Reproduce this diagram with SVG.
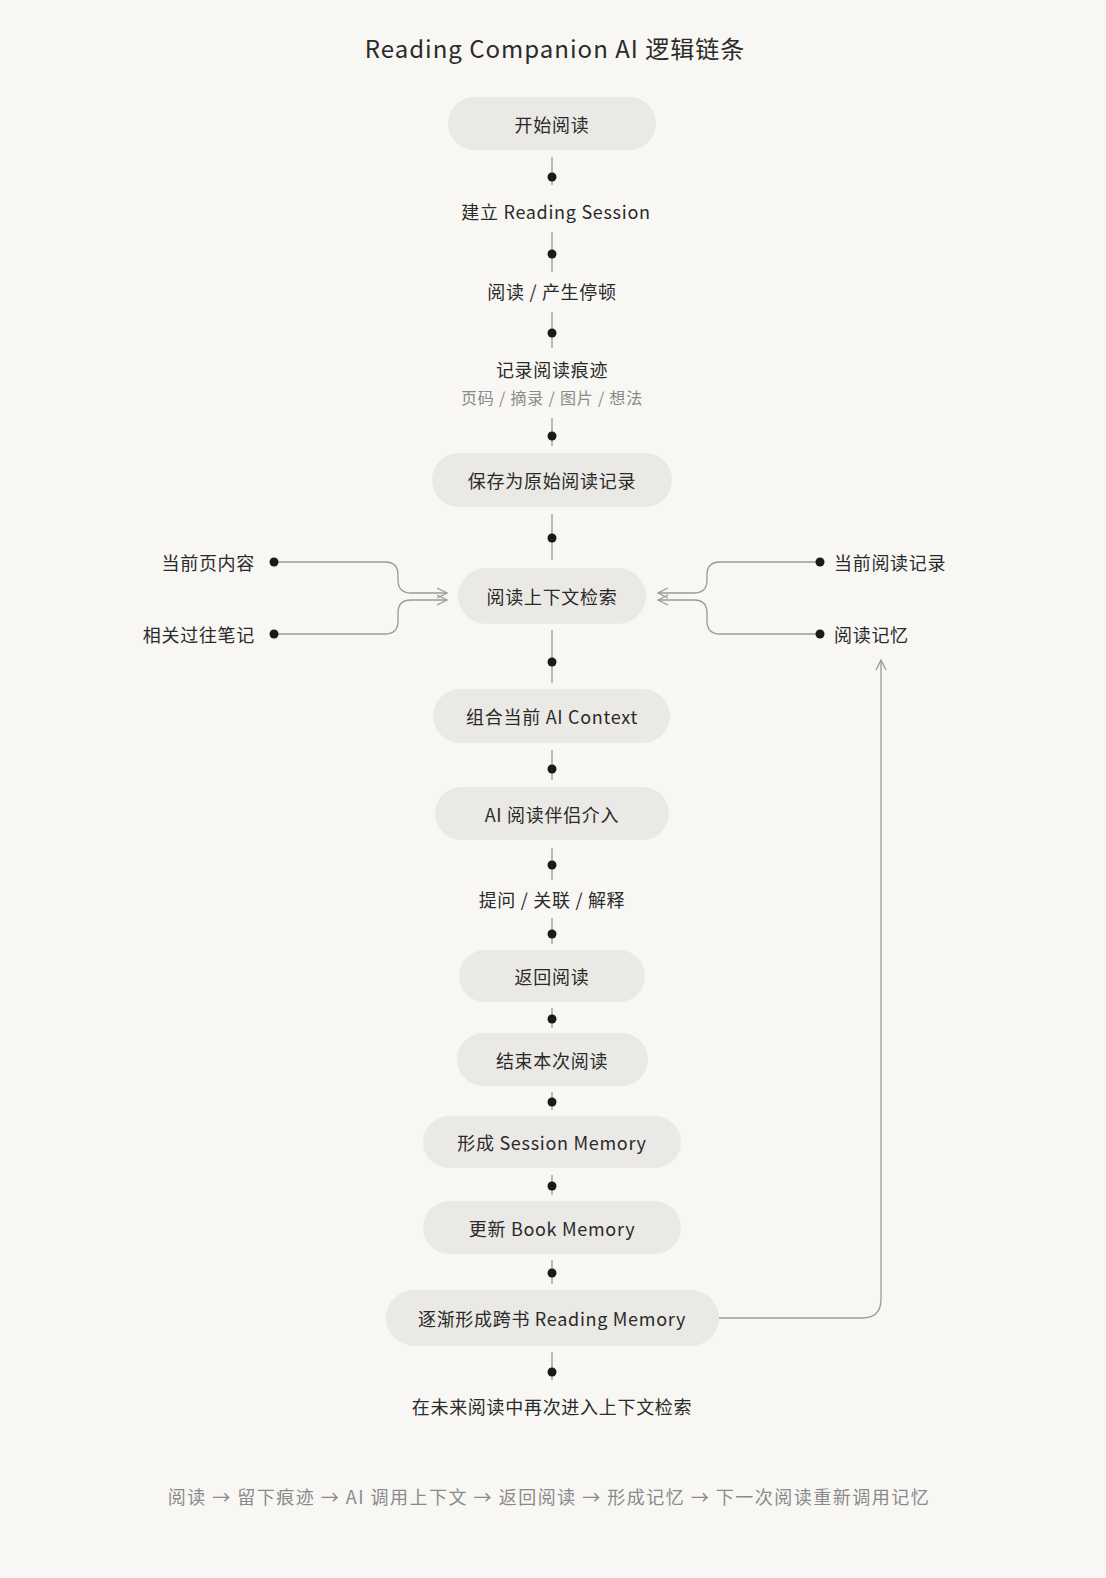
<svg xmlns="http://www.w3.org/2000/svg" width="1106" height="1578" viewBox="0 0 1106 1578">
<style>
text{font-family:"Noto Sans CJK SC","Noto Sans",sans-serif;fill:#2a2a2a;text-anchor:middle;dominant-baseline:central}
.n{fill:#ebe9e5}
.t{font-size:18px;letter-spacing:0.7px}
.s{font-size:16px;fill:#8a8a8a;letter-spacing:0.8px}
.ln{stroke:#9a9a9a;stroke-width:1.3;fill:none}
.d{fill:#1a1a1a}
</style>
<defs>
<marker id="ar" viewBox="0 0 12 12" refX="11" refY="6" markerWidth="12" markerHeight="12" markerUnits="userSpaceOnUse" orient="auto"><path d="M1,1 L11,6 L1,11" fill="none" stroke="#9a9a9a" stroke-width="1.3"/></marker>
</defs>
<rect width="1106" height="1578" fill="#f8f7f4"/>
<text x="555" y="47" style="font-size:24px;letter-spacing:1px">Reading Companion AI 逻辑链条</text>
<g id="connectors">
<g class="ln">
<path d="M552,157V185M552,232V272M552,312V348M552,418V446M552,514V560M552,630V683M552,750V780M552,848V880M552,918V944M552,1008V1028M552,1092V1110M552,1175V1195M552,1260V1284M552,1352V1380"/>
<path d="M274,562H385Q398,562 398,575V580Q398,593 411,593H447" marker-end="url(#ar)"/>
<path d="M274,634H385Q398,634 398,621V613Q398,600 411,600H447" marker-end="url(#ar)"/>
<path d="M820,562H720Q707,562 707,575V580Q707,593 694,593H658" marker-end="url(#ar)"/>
<path d="M820,634H720Q707,634 707,621V613Q707,600 694,600H658" marker-end="url(#ar)"/>
<path d="M719,1318H862Q881,1318 881,1299V660" marker-end="url(#ar)"/>
</g>
<g class="d">
<circle cx="552" cy="177" r="4.5"/><circle cx="552" cy="254" r="4.5"/><circle cx="552" cy="333" r="4.5"/><circle cx="552" cy="436" r="4.5"/><circle cx="552" cy="538" r="4.5"/><circle cx="552" cy="662" r="4.5"/><circle cx="552" cy="769" r="4.5"/><circle cx="552" cy="865" r="4.5"/><circle cx="552" cy="934" r="4.5"/><circle cx="552" cy="1019" r="4.5"/><circle cx="552" cy="1102" r="4.5"/><circle cx="552" cy="1186" r="4.5"/><circle cx="552" cy="1273" r="4.5"/><circle cx="552" cy="1372" r="4.5"/>
<circle cx="274" cy="562" r="4.5"/><circle cx="274" cy="634" r="4.5"/><circle cx="820" cy="562" r="4.5"/><circle cx="820" cy="634" r="4.5"/>
</g>
</g>
<g id="n1"><rect class="n" x="448" y="97" width="208" height="53" rx="26.5"/><text class="t" x="552" y="124">开始阅读</text></g>
<g id="n2"><text class="t" x="556" y="211">建立 Reading Session</text></g>
<g id="n3"><text class="t" x="552" y="291">阅读 / 产生停顿</text></g>
<g id="n4"><text class="t" x="552" y="369">记录阅读痕迹</text><text class="s" x="552" y="397">页码 / 摘录 / 图片 / 想法</text></g>
<g id="n5"><rect class="n" x="432" y="453" width="240" height="54" rx="27"/><text class="t" x="552" y="480">保存为原始阅读记录</text></g>
<g id="n6"><rect class="n" x="458" y="568" width="188" height="56" rx="28"/><text class="t" x="552" y="596">阅读上下文检索</text></g>
<g id="l1"><text class="t" x="255" y="562" style="text-anchor:end">当前页内容</text></g>
<g id="l2"><text class="t" x="255" y="634" style="text-anchor:end">相关过往笔记</text></g>
<g id="r1"><text class="t" x="834" y="562" style="text-anchor:start">当前阅读记录</text></g>
<g id="r2"><text class="t" x="834" y="634" style="text-anchor:start">阅读记忆</text></g>
<g id="n7"><rect class="n" x="433" y="689" width="237" height="54" rx="27"/><text class="t" x="552" y="716">组合当前 AI Context</text></g>
<g id="n8"><rect class="n" x="435" y="787" width="234" height="53" rx="26.5"/><text class="t" x="552" y="814">AI 阅读伴侣介入</text></g>
<g id="n9"><text class="t" x="552" y="899">提问 / 关联 / 解释</text></g>
<g id="n10"><rect class="n" x="459" y="950" width="186" height="52" rx="26"/><text class="t" x="552" y="976">返回阅读</text></g>
<g id="n11"><rect class="n" x="457" y="1033" width="191" height="53" rx="26.5"/><text class="t" x="552" y="1060">结束本次阅读</text></g>
<g id="n12"><rect class="n" x="423" y="1116" width="258" height="52" rx="26"/><text class="t" x="552" y="1142">形成 Session Memory</text></g>
<g id="n13"><rect class="n" x="423" y="1201" width="258" height="53" rx="26.5"/><text class="t" x="552" y="1228">更新 Book Memory</text></g>
<g id="n14"><rect class="n" x="386" y="1290" width="333" height="56" rx="28"/><text class="t" x="552" y="1318">逐渐形成跨书 Reading Memory</text></g>
<g id="n15"><text class="t" x="552" y="1406">在未来阅读中再次进入上下文检索</text></g>
<text x="549" y="1496" style="font-size:18px;fill:#8a8a8a;letter-spacing:1.5px">阅读 → 留下痕迹 → AI 调用上下文 → 返回阅读 → 形成记忆 → 下一次阅读重新调用记忆</text>
</svg>
